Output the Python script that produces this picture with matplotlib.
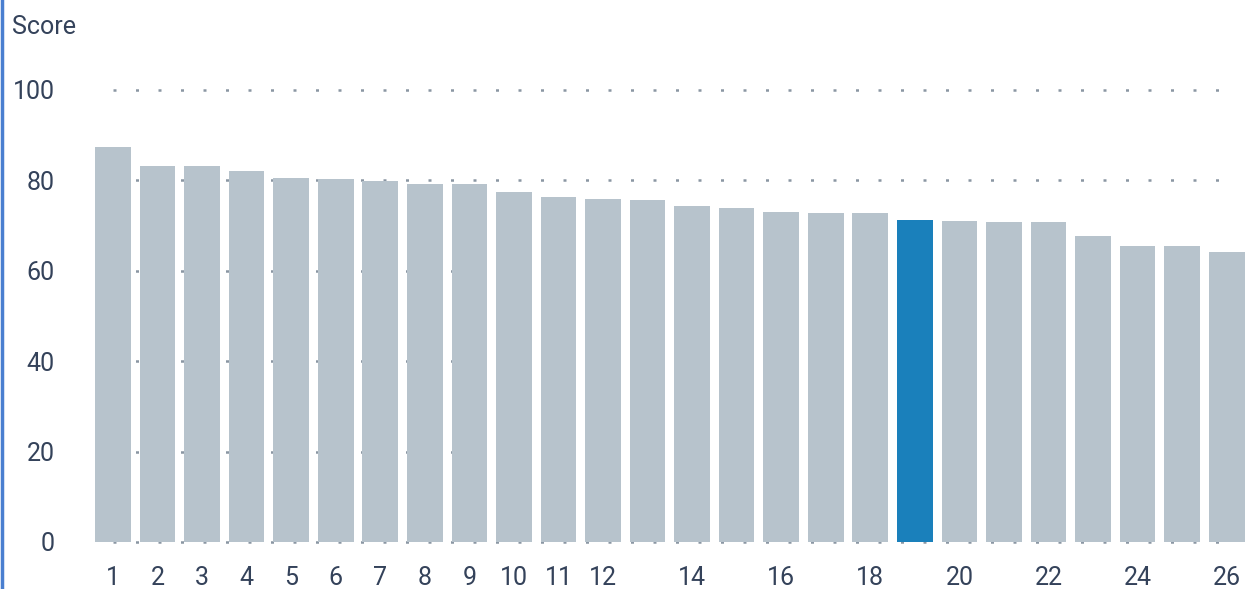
import matplotlib
matplotlib.use("Agg")
import matplotlib.pyplot as plt
import numpy as np

plt.rcParams['font.family'] = ['Roboto', 'DejaVu Sans']

ranks = list(range(1, 27))
scores = [87.4, 83.2, 83.2, 82.1, 80.5, 80.3, 79.9, 79.2, 79.2, 77.4,
          76.3, 75.9, 75.7, 74.3, 73.9, 73.0, 72.8, 72.8, 71.2, 71.0,
          70.8, 70.8, 67.7, 65.5, 65.5, 64.2]
highlight = 19
xtick_labels = [1, 2, 3, 4, 5, 6, 7, 8, 9, 10, 11, 12, 14, 16, 18, 20, 22, 24, 26]
yticks = [0, 20, 40, 60, 80, 100]

text_color = '#34425a'
grey = '#b7c3cc'
blue = '#1a80bb'

fig = plt.figure(figsize=(12.49, 5.89), dpi=100)
ax = fig.add_axes([0.0726, 0.0798, 0.9274, 0.7674])

# dotted gridlines behind bars
for y in yticks:
    ax.hlines(y, 1, 26.15, colors='#8a96a3', linestyles=(0, (1.2, 7.8)), linewidth=1.8,
              zorder=1, clip_on=False)

colors = [blue if r == highlight else grey for r in ranks]
ax.bar(ranks, scores, width=0.8, color=colors, zorder=2)

ax.set_xlim(0.5, 26.5)
ax.set_ylim(0, 100)
ax.set_xticks(xtick_labels)
ax.set_xticklabels([str(t) for t in xtick_labels])
ax.set_yticks(yticks)
ax.tick_params(axis='both', length=0, labelsize=18, labelcolor=text_color)
ax.tick_params(axis='x', pad=17)
ax.tick_params(axis='y', pad=26)
for s in ax.spines.values():
    s.set_visible(False)

fig.text(0.0096, 0.954, 'Score', fontsize=18, color=text_color,
         va='center', ha='left')

# blue left border
fig.add_artist(plt.Line2D([0.0016, 0.0016], [0, 1], color='#4a7fd0', linewidth=2.5,
                          transform=fig.transFigure))

fig.savefig('out.png', dpi=100)
